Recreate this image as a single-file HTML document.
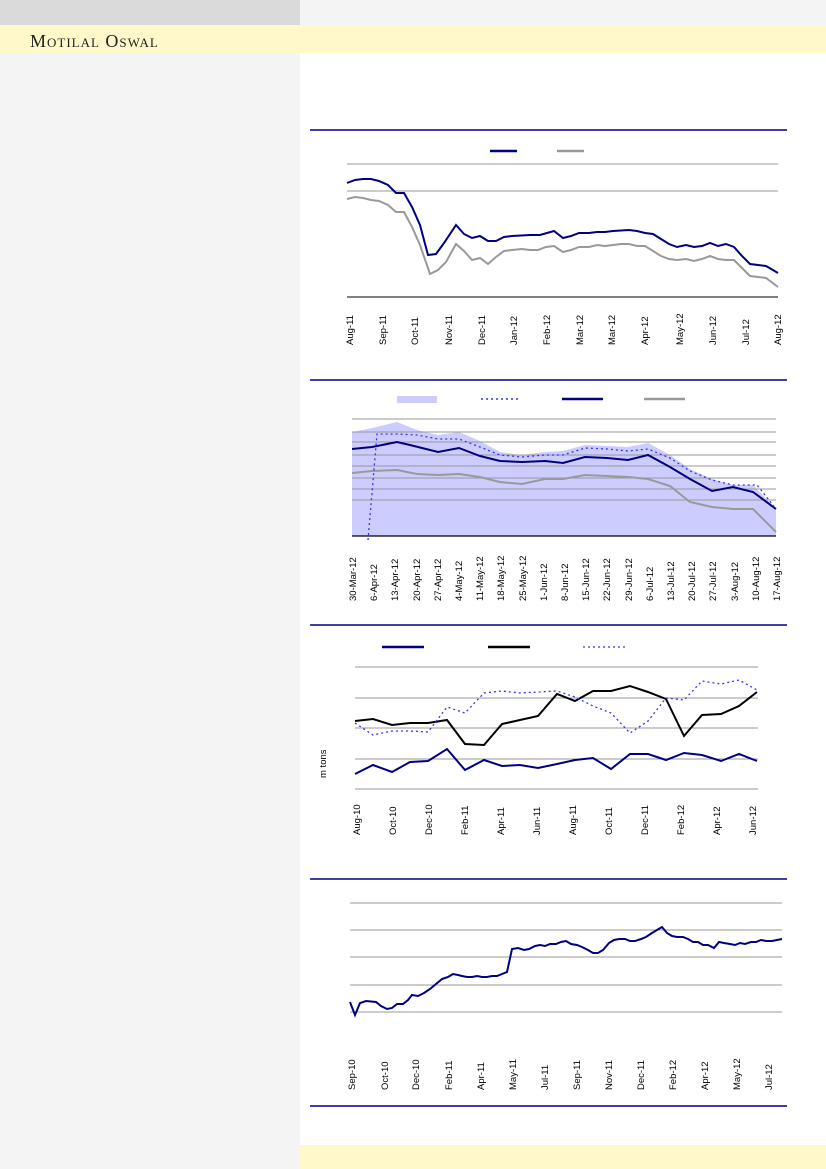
<!DOCTYPE html>
<html><head><meta charset="utf-8"><style>
html,body{margin:0;padding:0;width:826px;height:1169px;overflow:hidden;background:#fff}
svg{display:block}
text{font-family:"Liberation Sans",sans-serif;font-size:9.5px;fill:#000}
</style></head><body>
<svg width="826" height="1169" viewBox="0 0 826 1169" xmlns="http://www.w3.org/2000/svg">
<rect x="0" y="0" width="826" height="1169" fill="#fff"/>
<rect x="0" y="0" width="300" height="1169" fill="#f4f4f4"/>
<rect x="300" y="0" width="526" height="25" fill="#f4f4f4"/>
<rect x="0" y="0" width="300" height="25" fill="#dadada"/>
<rect x="0" y="25" width="826" height="28" fill="#fff8c8"/>
<rect x="300" y="1145" width="526" height="24" fill="#fff8c8"/>
<text x="30" y="47" style="font-family:'Liberation Serif',serif;font-size:18px;fill:#222;font-variant:small-caps;letter-spacing:1px">Motilal Oswal</text>

<!-- Chart 1 -->
<line x1="310" y1="130" x2="787" y2="130" stroke="#000080" stroke-width="1.5"/>
<line x1="490" y1="151" x2="517" y2="151" stroke="#000080" stroke-width="2.5"/>
<line x1="557" y1="151" x2="584" y2="151" stroke="#999" stroke-width="2.5"/>
<g stroke="#999" stroke-width="1"><line x1="347" y1="164" x2="778" y2="164"/><line x1="347" y1="191" x2="778" y2="191"/></g>
<line x1="347" y1="297" x2="778" y2="297" stroke="#000" stroke-width="1"/>
<polyline fill="none" stroke="#999" stroke-width="2" points="347,199 355,197 363,198 371,200 379,201 388,205 396,212 404,212 412,227 420,245 430,274 438,270 446,262 456,244 464,251 472,260 480,258 488,264 496,257 504,251 512,250 522,249 530,250 538,250 546,247 554,246 563,252 571,250 579,247 589,247 597,245 605,246 613,245 621,244 629,244 637,246 645,246 653,251 661,256 669,259 677,260 686,259 694,261 702,259 710,256 718,259 726,260 734,260 742,268 750,276 758,277 766,278 778,287"/>
<polyline fill="none" stroke="#000080" stroke-width="2" points="347,183 355,180 363,179 371,179 379,181 388,185 396,193 404,193 412,207 420,225 428,255 436,254 444,243 456,225 464,234 472,238 480,236 488,241 496,241 504,237 512,236 530,235 540,235 554,231 563,238 571,236 579,233 589,233 597,232 605,232 613,231 629,230 637,231 645,233 653,234 661,239 669,244 677,247 686,245 694,247 702,246 710,243 718,246 726,244 734,247 742,256 750,264 758,265 766,266 778,273"/>
<g>
<text transform="translate(353,345) rotate(-90)">Aug-11</text>
<text transform="translate(386,345) rotate(-90)">Sep-11</text>
<text transform="translate(418,345) rotate(-90)">Oct-11</text>
<text transform="translate(452,345) rotate(-90)">Nov-11</text>
<text transform="translate(485,345) rotate(-90)">Dec-11</text>
<text transform="translate(517,345) rotate(-90)">Jan-12</text>
<text transform="translate(550,345) rotate(-90)">Feb-12</text>
<text transform="translate(583,345) rotate(-90)">Mar-12</text>
<text transform="translate(615,345) rotate(-90)">Mar-12</text>
<text transform="translate(648,345) rotate(-90)">Apr-12</text>
<text transform="translate(683,345) rotate(-90)">May-12</text>
<text transform="translate(716,345) rotate(-90)">Jun-12</text>
<text transform="translate(749,345) rotate(-90)">Jul-12</text>
<text transform="translate(781,345) rotate(-90)">Aug-12</text>
</g>

<!-- Chart 2 -->
<line x1="310" y1="380" x2="787" y2="380" stroke="#000080" stroke-width="1.5"/>
<rect x="397" y="396" width="40" height="7" fill="#ccccff"/>
<line x1="481" y1="399" x2="520" y2="399" stroke="#3333ff" stroke-width="1.5" stroke-dasharray="2,3"/>
<line x1="562" y1="399" x2="603" y2="399" stroke="#000080" stroke-width="2.5"/>
<line x1="644" y1="399" x2="685" y2="399" stroke="#999" stroke-width="2.5"/>
<polygon fill="#ccccff" points="352,536 352,432 372,428 397,422 417,430 438,435 459,432 480,441 500,452 522,455 545,452 563,451 585,445 607,446 628,447 648,443 670,455 690,469 712,479 733,485 753,485 776,509 776,536"/>
<g stroke="#999" stroke-width="1"><line x1="352" y1="419" x2="776" y2="419"/><line x1="352" y1="432" x2="776" y2="432"/><line x1="352" y1="442" x2="776" y2="442"/><line x1="352" y1="455" x2="776" y2="455"/><line x1="352" y1="466" x2="776" y2="466"/><line x1="352" y1="478" x2="776" y2="478"/><line x1="352" y1="489" x2="776" y2="489"/><line x1="352" y1="500" x2="776" y2="500"/></g>
<line x1="352" y1="536" x2="776" y2="536" stroke="#000" stroke-width="1.2"/>
<polyline fill="none" stroke="#999" stroke-width="2" points="352,473 372,471 397,470 417,474 438,475 459,474 480,477 500,482 522,484 545,479 563,479 585,475 607,476 628,477 648,479 670,486 690,502 712,507 733,509 753,509 776,532"/>
<polyline fill="none" stroke="#000080" stroke-width="2" points="352,449 372,447 397,442 410,445 438,452 459,448 480,456 500,461 522,462 545,461 563,463 585,457 607,458 628,460 648,455 670,467 690,479 712,491 733,487 753,492 776,509"/>
<polyline fill="none" stroke="#3333ff" stroke-width="1.3" stroke-dasharray="2,3" points="368,540 377,434 397,434 417,435 438,439 459,439 480,447 500,455 522,457 545,455 563,455 585,448 607,449 628,451 648,449 670,458 690,471 712,480 733,485 757,485 776,509"/>
<g>
<text transform="translate(356,601) rotate(-90)">30-Mar-12</text>
<text transform="translate(377,601) rotate(-90)">6-Apr-12</text>
<text transform="translate(398,601) rotate(-90)">13-Apr-12</text>
<text transform="translate(420,601) rotate(-90)">20-Apr-12</text>
<text transform="translate(441,601) rotate(-90)">27-Apr-12</text>
<text transform="translate(462,601) rotate(-90)">4-May-12</text>
<text transform="translate(483,601) rotate(-90)">11-May-12</text>
<text transform="translate(504,601) rotate(-90)">18-May-12</text>
<text transform="translate(526,601) rotate(-90)">25-May-12</text>
<text transform="translate(547,601) rotate(-90)">1-Jun-12</text>
<text transform="translate(568,601) rotate(-90)">8-Jun-12</text>
<text transform="translate(589,601) rotate(-90)">15-Jun-12</text>
<text transform="translate(610,601) rotate(-90)">22-Jun-12</text>
<text transform="translate(632,601) rotate(-90)">29-Jun-12</text>
<text transform="translate(653,601) rotate(-90)">6-Jul-12</text>
<text transform="translate(674,601) rotate(-90)">13-Jul-12</text>
<text transform="translate(695,601) rotate(-90)">20-Jul-12</text>
<text transform="translate(716,601) rotate(-90)">27-Jul-12</text>
<text transform="translate(738,601) rotate(-90)">3-Aug-12</text>
<text transform="translate(759,601) rotate(-90)">10-Aug-12</text>
<text transform="translate(780,601) rotate(-90)">17-Aug-12</text>
</g>

<!-- Chart 3 -->
<line x1="310" y1="625" x2="787" y2="625" stroke="#000080" stroke-width="1.5"/>
<line x1="382" y1="647" x2="424" y2="647" stroke="#000080" stroke-width="2.5"/>
<line x1="488" y1="647" x2="530" y2="647" stroke="#000" stroke-width="2.5"/>
<line x1="583" y1="647" x2="625" y2="647" stroke="#3333ff" stroke-width="1.3" stroke-dasharray="2,3"/>
<g stroke="#999" stroke-width="1"><line x1="355" y1="667" x2="758" y2="667"/><line x1="355" y1="698" x2="758" y2="698"/><line x1="355" y1="728" x2="758" y2="728"/><line x1="355" y1="759" x2="758" y2="759"/></g>
<line x1="355" y1="789" x2="758" y2="789" stroke="#999" stroke-width="1"/>
<text transform="translate(326,778) rotate(-90)">m tons</text>
<polyline fill="none" stroke="#000080" stroke-width="2" points="355,774 373,765 392,772 410,762 428,761 447,749 465,770 484,760 502,766 520,765 538,768 557,764 575,760 593,758 611,769 630,754 648,754 666,760 684,753 702,755 721,761 739,754 757,761"/>
<polyline fill="none" stroke="#000" stroke-width="2" points="355,721 373,719 392,725 410,723 428,723 447,720 465,744 484,745 502,724 520,720 538,716 557,694 575,701 593,691 611,691 630,686 648,692 666,699 684,736 702,715 721,714 739,706 757,692"/>
<polyline fill="none" stroke="#3333ff" stroke-width="1.3" stroke-dasharray="2,3" points="355,723 373,735 392,731 410,731 428,732 447,707 465,713 484,693 502,691 520,693 538,692 557,691 575,697 593,706 611,713 630,733 648,721 666,698 684,700 702,681 721,684 739,680 757,690"/>
<g>
<text transform="translate(360,835) rotate(-90)">Aug-10</text>
<text transform="translate(396,835) rotate(-90)">Oct-10</text>
<text transform="translate(432,835) rotate(-90)">Dec-10</text>
<text transform="translate(468,835) rotate(-90)">Feb-11</text>
<text transform="translate(504,835) rotate(-90)">Apr-11</text>
<text transform="translate(540,835) rotate(-90)">Jun-11</text>
<text transform="translate(576,835) rotate(-90)">Aug-11</text>
<text transform="translate(612,835) rotate(-90)">Oct-11</text>
<text transform="translate(648,835) rotate(-90)">Dec-11</text>
<text transform="translate(684,835) rotate(-90)">Feb-12</text>
<text transform="translate(720,835) rotate(-90)">Apr-12</text>
<text transform="translate(756,835) rotate(-90)">Jun-12</text>
</g>

<!-- Chart 4 -->
<line x1="310" y1="879" x2="787" y2="879" stroke="#000080" stroke-width="1.5"/>
<g stroke="#999" stroke-width="1"><line x1="350" y1="903" x2="782" y2="903"/><line x1="350" y1="930" x2="782" y2="930"/><line x1="350" y1="957" x2="782" y2="957"/><line x1="350" y1="985" x2="782" y2="985"/><line x1="350" y1="1012" x2="782" y2="1012"/></g>
<polyline fill="none" stroke="#000080" stroke-width="2" points="350,1002 355,1015 360,1003 366,1001 376,1002 381,1006 387,1009 392,1008 397,1004 403,1004 408,1000 412,995 418,996 424,993 430,989 436,984 442,979 448,977 453,974 458,975 462,976 467,977 472,977 477,976 482,977 487,977 492,976 497,976 502,974 507,972 512,949 518,948 524,950 529,949 535,946 540,945 545,946 550,944 556,944 561,942 566,941 571,944 577,945 582,947 588,950 593,953 598,953 603,950 609,943 614,940 619,939 625,939 630,941 635,941 641,939 646,937 652,933 657,930 662,927 667,933 672,936 677,937 683,937 688,939 693,942 698,942 703,945 708,945 714,948 719,942 724,943 730,944 735,945 740,943 745,944 751,942 756,942 761,940 766,941 772,941 777,940 782,939"/>
<g>
<text transform="translate(355,1090) rotate(-90)">Sep-10</text>
<text transform="translate(388,1090) rotate(-90)">Oct-10</text>
<text transform="translate(419,1090) rotate(-90)">Dec-10</text>
<text transform="translate(452,1090) rotate(-90)">Feb-11</text>
<text transform="translate(484,1090) rotate(-90)">Apr-11</text>
<text transform="translate(516,1090) rotate(-90)">May-11</text>
<text transform="translate(548,1090) rotate(-90)">Jul-11</text>
<text transform="translate(580,1090) rotate(-90)">Sep-11</text>
<text transform="translate(612,1090) rotate(-90)">Nov-11</text>
<text transform="translate(644,1090) rotate(-90)">Dec-11</text>
<text transform="translate(676,1090) rotate(-90)">Feb-12</text>
<text transform="translate(708,1090) rotate(-90)">Apr-12</text>
<text transform="translate(740,1090) rotate(-90)">May-12</text>
<text transform="translate(772,1090) rotate(-90)">Jul-12</text>
</g>
<line x1="310" y1="1106" x2="787" y2="1106" stroke="#000080" stroke-width="1.5"/>
</svg>
</body></html>
